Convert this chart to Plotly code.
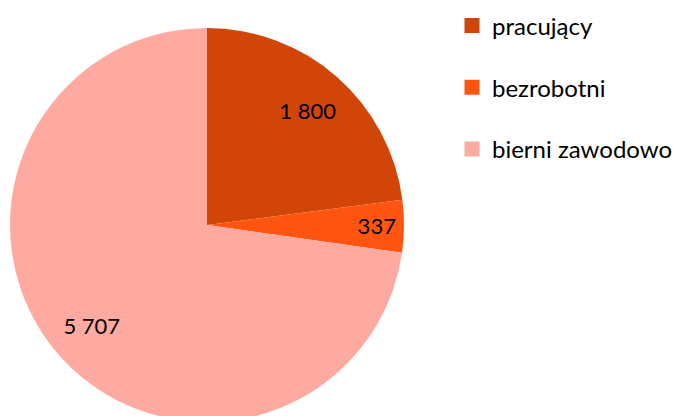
import plotly.graph_objects as go

labels = ["pracujący", "bezrobotni", "bierni zawodowo"]
values = [1800, 337, 5707]
value_text = ["1 800", "337", "5 707"]
colors = ["#D24508", "#FF5510", "#FFAAA0"]

W, H = 676, 450
FONT = "Lato"
dom = dict(x=[10 / W, 404 / W], y=[28 / H, 422 / H])

fig = go.Figure()
# filled pie
fig.add_trace(go.Pie(
    labels=labels, values=values,
    textinfo="none",
    marker=dict(colors=colors, line=dict(width=0)),
    sort=False, direction="clockwise", rotation=0,
    showlegend=False, hoverinfo="label+value",
    domain=dom,
))
# transparent ring carrying the value labels
fig.add_trace(go.Pie(
    labels=labels, values=values, text=value_text, hole=0.55,
    textinfo="text", textposition="inside", insidetextorientation="horizontal",
    marker=dict(colors=["rgba(0,0,0,0)"] * 3, line=dict(width=0)),
    sort=False, direction="clockwise", rotation=0,
    showlegend=False, hoverinfo="skip",
    textfont=dict(family=FONT, size=22, color="black"),
    domain=dom,
))
for lab, col in zip(labels, colors):
    fig.add_trace(go.Scatter(
        x=[None], y=[None], mode="markers", name=lab, legendgroup=lab,
        marker=dict(symbol="square", size=15, color=col),
    ))

fig.update_layout(
    width=W, height=H, margin=dict(l=0, r=0, t=0, b=0, autoexpand=False),
    paper_bgcolor="white", plot_bgcolor="white",
    font=dict(family=FONT, size=22, color="black"),
    xaxis=dict(visible=False), yaxis=dict(visible=False),
    legend=dict(x=452 / W, xanchor="left", y=1 - 3.5 / H, yanchor="top",
                tracegroupgap=27.5, font=dict(family=FONT, size=24, color="black"),
                bgcolor="rgba(0,0,0,0)"),
)
fig.write_html("out.html", config={"displayModeBar": False}, post_script=(
    "document.body.style.margin='0';"
    "document.body.style.overflow='hidden';"
    "document.documentElement.style.overflow='hidden';"
))
